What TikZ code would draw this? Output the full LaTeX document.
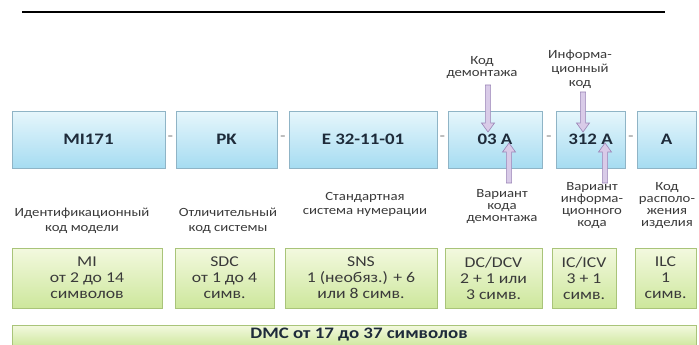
\documentclass[tikz,border=0pt]{standalone}
\usepackage{fontspec}
\setmainfont{Carlito}[FakeStretch=1.18]
\usetikzlibrary{shadows,calc}
\definecolor{btop}{HTML}{E6F6FC}
\definecolor{bbot}{HTML}{A6DCF1}
\definecolor{bline}{HTML}{8FB4C6}
\definecolor{gtop}{HTML}{F3F9DF}
\definecolor{gbot}{HTML}{CDE79C}
\definecolor{gline}{HTML}{A9C479}
\definecolor{afill}{HTML}{D9CBE8}
\definecolor{aline}{HTML}{9A84B6}
\definecolor{txt}{HTML}{3A3A3A}
\definecolor{btxt}{HTML}{1E2B3A}
\tikzset{
  bluebox/.style={draw=bline, line width=0.6pt, top color=btop, bottom color=bbot,
    minimum height=57pt, inner sep=0pt, font=\fontsize{16}{18}\selectfont\bfseries, text=btxt,
    drop shadow={shadow xshift=1.2pt, shadow yshift=-1.2pt, opacity=0.3}},
  greenbox/.style={draw=gline, line width=0.6pt, top color=gtop, bottom color=gbot,
    minimum height=60pt, inner sep=0pt, align=center, font=\fontsize{15}{16}\selectfont, text=txt,
    drop shadow={shadow xshift=1.2pt, shadow yshift=-1.2pt, opacity=0.3}},
  sep/.style={font=\fontsize{14}{14}\selectfont\bfseries, text=gray!70, inner sep=0pt},
  lbl/.style={align=center, text=txt, inner sep=0pt, font=\fontsize{12.5}{12}\selectfont},
  arrowstyle/.style={fill=afill, draw=aline, line width=0.6pt, line join=miter}
}
\newcommand{\myblockarrow}[2]{%
  \coordinate (hb) at ($(#2)!9pt!(#1)$);
  \draw[arrowstyle] ($(#1)!2.6pt!90:(#2)$) -- ($(hb)!2.6pt!90:(#2)$) -- ($(hb)!6.5pt!90:(#2)$)
    -- (#2) -- ($(hb)!6.5pt!-90:(#2)$) -- ($(hb)!2.6pt!-90:(#2)$) -- ($(#1)!2.6pt!-90:(#2)$) -- cycle;
}
\begin{document}
\begin{tikzpicture}[x=1pt,y=-1pt]
\useasboundingbox[fill=white] (0,0) rectangle (699,345);
% top rule
\coordinate (rl) at (22,12);
\coordinate (rr) at (665,12);
\draw[line width=2.5pt] (rl) -- (rr);
% top boxes
\node[bluebox, minimum width=153pt] (b1) at (88.5,139.5) {MI171};
\node[bluebox, minimum width=101pt] (b2) at (226.5,139.5) {PK};
\node[bluebox, minimum width=148pt] (b3) at (363,139.5) {E 32-11-01};
\node[bluebox, minimum width=94pt] (b4) at (495,139.5) {03 A};
\node[bluebox, minimum width=69pt] (b5) at (590.5,139.5) {312 A};
\node[bluebox, minimum width=59pt] (b6) at (666.5,139.5) {A};
\node[sep] (s1) at (170.5,138) {-};
\node[sep] (s2) at (283,138) {-};
\node[sep] (s3) at (442.5,138) {-};
\node[sep] (s4) at (549,138) {-};
\node[sep] (s5) at (631,138) {-};
% labels
\node[lbl, font=\fontsize{12.5}{15}\selectfont] (l1) at (82,220.5) {Идентификационный\\код модели};
\node[lbl, font=\fontsize{12.5}{15}\selectfont] (l2) at (228,220.5) {Отличительный\\код системы};
\node[lbl, font=\fontsize{12.5}{14}\selectfont] (l3) at (365,204) {Стандартная\\система нумерации};
\node[lbl] (l4) at (502,206.5) {Вариант\\кода\\демонтажа};
\node[lbl] (l5) at (592,205.5) {Вариант\\информа-\\ционного\\кода};
\node[lbl] (l6) at (667,205.5) {Код\\располо-\\жения\\изделия};
\node[lbl] (t1) at (482,68) {Код\\демонтажа};
\node[lbl, font=\fontsize{12.5}{14}\selectfont] (t2) at (580,69) {Информа-\\ционный\\код};
% arrows
\coordinate (a1s) at (488,85);
\coordinate (a1t) at (488,132);
\coordinate (a2s) at (583,92);
\coordinate (a2t) at (583,132);
\coordinate (a3s) at (509,183);
\coordinate (a3t) at (509,143);
\coordinate (a4s) at (605,183);
\coordinate (a4t) at (605,143);
\myblockarrow{a1s}{a1t}
\myblockarrow{a2s}{a2t}
\myblockarrow{a3s}{a3t}
\myblockarrow{a4s}{a4t}
% green boxes
\node[greenbox, minimum width=150pt] (g1) at (87,278) {MI\\от 2 до 14\\символов};
\node[greenbox, minimum width=99pt] (g2) at (224.5,278) {SDC\\от 1 до 4\\симв.};
\node[greenbox, minimum width=152pt] (g3) at (361,278) {SNS\\1 (необяз.) + 6\\или 8 симв.};
\node[greenbox, minimum width=97pt] (g4) at (493.5,278) {DC/DCV\\2 + 1 или\\3 симв.};
\node[greenbox, minimum width=64pt] (g5) at (584,278) {IC/ICV\\3 + 1\\симв.};
\node[greenbox, minimum width=61pt] (g6) at (665.5,278) {ILC\\1\\симв.};
\node[greenbox, minimum width=684pt, minimum height=22pt] (g7) at (354,336) {};
\node[font=\fontsize{16}{18}\selectfont\bfseries, text=btxt, inner sep=0pt] (dmc) at (359,335) {DMC от 17 до 37 символов};
\end{tikzpicture}
\end{document}
